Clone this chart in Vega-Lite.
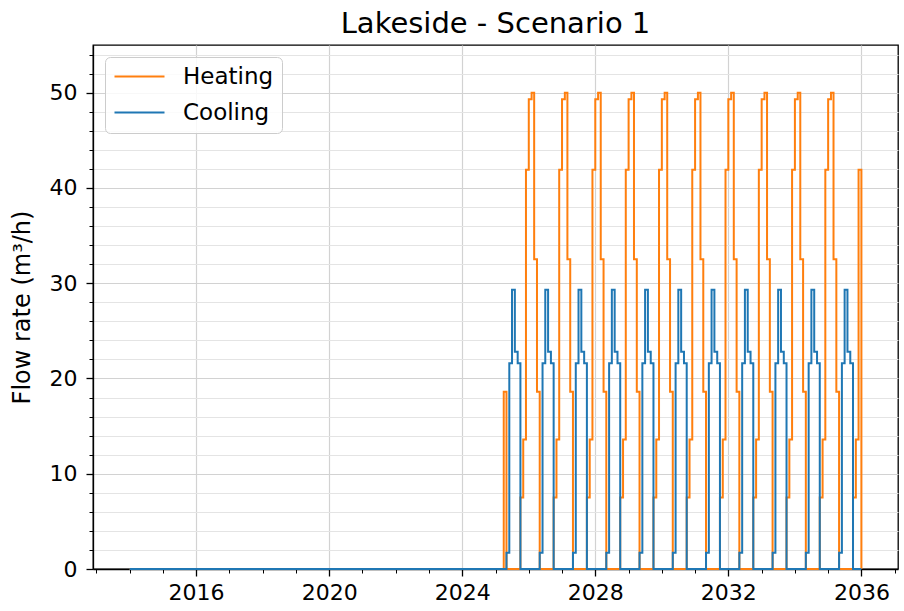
{
  "$schema": "https://vega.github.io/schema/vega-lite/v6.json",
  "width": 805,
  "height": 524,
  "autosize": {"type": "none"},
  "padding": {"left": 93, "top": 45, "right": 6, "bottom": 42},
  "background": "white",
  "title": {"text": "Lakeside - Scenario 1", "fontSize": 29, "font": "DejaVu Sans", "fontWeight": "normal", "color": "black", "anchor": "middle", "baseline": "bottom", "offset": 8, "dy": 31},
  "config": {
    "font": "DejaVu Sans",
    "view": {"stroke": "black", "strokeWidth": 1.3},
    "legend": {
      "symbolType": "M-2.5,0H2.5", "symbolSize": 400, "symbolStrokeWidth": 2, "symbolOffset": 15,
      "labelFontSize": 23, "labelFont": "DejaVu Sans", "labelColor": "black", "labelOffset": 32,
      "rowPadding": 12, "padding": 8, "strokeColor": "#cccccc", "fillColor": "rgba(255,255,255,0.85)",
      "cornerRadius": 5, "offset": 12, "orient": "top-left"
    }
  },
  "data": {"values": [
    {"t": "2014-01-01", "Heating": 0, "Cooling": 0},
    {"t": "2025-04-01", "Heating": 18.6, "Cooling": 0},
    {"t": "2025-05-01", "Heating": 0, "Cooling": 1.7},
    {"t": "2025-06-01", "Heating": 0, "Cooling": 21.6},
    {"t": "2025-07-01", "Heating": 0, "Cooling": 29.3},
    {"t": "2025-08-01", "Heating": 0, "Cooling": 22.8},
    {"t": "2025-09-01", "Heating": 0, "Cooling": 21.6},
    {"t": "2025-10-01", "Heating": 7.5, "Cooling": 0},
    {"t": "2025-11-01", "Heating": 13.6, "Cooling": 0},
    {"t": "2025-12-01", "Heating": 41.9, "Cooling": 0},
    {"t": "2026-01-01", "Heating": 49.3, "Cooling": 0},
    {"t": "2026-02-01", "Heating": 50, "Cooling": 0},
    {"t": "2026-03-01", "Heating": 32.5, "Cooling": 0},
    {"t": "2026-04-01", "Heating": 18.6, "Cooling": 0},
    {"t": "2026-05-01", "Heating": 0, "Cooling": 1.7},
    {"t": "2026-06-01", "Heating": 0, "Cooling": 21.6},
    {"t": "2026-07-01", "Heating": 0, "Cooling": 29.3},
    {"t": "2026-08-01", "Heating": 0, "Cooling": 22.8},
    {"t": "2026-09-01", "Heating": 0, "Cooling": 21.6},
    {"t": "2026-10-01", "Heating": 7.5, "Cooling": 0},
    {"t": "2026-11-01", "Heating": 13.6, "Cooling": 0},
    {"t": "2026-12-01", "Heating": 41.9, "Cooling": 0},
    {"t": "2027-01-01", "Heating": 49.3, "Cooling": 0},
    {"t": "2027-02-01", "Heating": 50, "Cooling": 0},
    {"t": "2027-03-01", "Heating": 32.5, "Cooling": 0},
    {"t": "2027-04-01", "Heating": 18.6, "Cooling": 0},
    {"t": "2027-05-01", "Heating": 0, "Cooling": 1.7},
    {"t": "2027-06-01", "Heating": 0, "Cooling": 21.6},
    {"t": "2027-07-01", "Heating": 0, "Cooling": 29.3},
    {"t": "2027-08-01", "Heating": 0, "Cooling": 22.8},
    {"t": "2027-09-01", "Heating": 0, "Cooling": 21.6},
    {"t": "2027-10-01", "Heating": 7.5, "Cooling": 0},
    {"t": "2027-11-01", "Heating": 13.6, "Cooling": 0},
    {"t": "2027-12-01", "Heating": 41.9, "Cooling": 0},
    {"t": "2028-01-01", "Heating": 49.3, "Cooling": 0},
    {"t": "2028-02-01", "Heating": 50, "Cooling": 0},
    {"t": "2028-03-01", "Heating": 32.5, "Cooling": 0},
    {"t": "2028-04-01", "Heating": 18.6, "Cooling": 0},
    {"t": "2028-05-01", "Heating": 0, "Cooling": 1.7},
    {"t": "2028-06-01", "Heating": 0, "Cooling": 21.6},
    {"t": "2028-07-01", "Heating": 0, "Cooling": 29.3},
    {"t": "2028-08-01", "Heating": 0, "Cooling": 22.8},
    {"t": "2028-09-01", "Heating": 0, "Cooling": 21.6},
    {"t": "2028-10-01", "Heating": 7.5, "Cooling": 0},
    {"t": "2028-11-01", "Heating": 13.6, "Cooling": 0},
    {"t": "2028-12-01", "Heating": 41.9, "Cooling": 0},
    {"t": "2029-01-01", "Heating": 49.3, "Cooling": 0},
    {"t": "2029-02-01", "Heating": 50, "Cooling": 0},
    {"t": "2029-03-01", "Heating": 32.5, "Cooling": 0},
    {"t": "2029-04-01", "Heating": 18.6, "Cooling": 0},
    {"t": "2029-05-01", "Heating": 0, "Cooling": 1.7},
    {"t": "2029-06-01", "Heating": 0, "Cooling": 21.6},
    {"t": "2029-07-01", "Heating": 0, "Cooling": 29.3},
    {"t": "2029-08-01", "Heating": 0, "Cooling": 22.8},
    {"t": "2029-09-01", "Heating": 0, "Cooling": 21.6},
    {"t": "2029-10-01", "Heating": 7.5, "Cooling": 0},
    {"t": "2029-11-01", "Heating": 13.6, "Cooling": 0},
    {"t": "2029-12-01", "Heating": 41.9, "Cooling": 0},
    {"t": "2030-01-01", "Heating": 49.3, "Cooling": 0},
    {"t": "2030-02-01", "Heating": 50, "Cooling": 0},
    {"t": "2030-03-01", "Heating": 32.5, "Cooling": 0},
    {"t": "2030-04-01", "Heating": 18.6, "Cooling": 0},
    {"t": "2030-05-01", "Heating": 0, "Cooling": 1.7},
    {"t": "2030-06-01", "Heating": 0, "Cooling": 21.6},
    {"t": "2030-07-01", "Heating": 0, "Cooling": 29.3},
    {"t": "2030-08-01", "Heating": 0, "Cooling": 22.8},
    {"t": "2030-09-01", "Heating": 0, "Cooling": 21.6},
    {"t": "2030-10-01", "Heating": 7.5, "Cooling": 0},
    {"t": "2030-11-01", "Heating": 13.6, "Cooling": 0},
    {"t": "2030-12-01", "Heating": 41.9, "Cooling": 0},
    {"t": "2031-01-01", "Heating": 49.3, "Cooling": 0},
    {"t": "2031-02-01", "Heating": 50, "Cooling": 0},
    {"t": "2031-03-01", "Heating": 32.5, "Cooling": 0},
    {"t": "2031-04-01", "Heating": 18.6, "Cooling": 0},
    {"t": "2031-05-01", "Heating": 0, "Cooling": 1.7},
    {"t": "2031-06-01", "Heating": 0, "Cooling": 21.6},
    {"t": "2031-07-01", "Heating": 0, "Cooling": 29.3},
    {"t": "2031-08-01", "Heating": 0, "Cooling": 22.8},
    {"t": "2031-09-01", "Heating": 0, "Cooling": 21.6},
    {"t": "2031-10-01", "Heating": 7.5, "Cooling": 0},
    {"t": "2031-11-01", "Heating": 13.6, "Cooling": 0},
    {"t": "2031-12-01", "Heating": 41.9, "Cooling": 0},
    {"t": "2032-01-01", "Heating": 49.3, "Cooling": 0},
    {"t": "2032-02-01", "Heating": 50, "Cooling": 0},
    {"t": "2032-03-01", "Heating": 32.5, "Cooling": 0},
    {"t": "2032-04-01", "Heating": 18.6, "Cooling": 0},
    {"t": "2032-05-01", "Heating": 0, "Cooling": 1.7},
    {"t": "2032-06-01", "Heating": 0, "Cooling": 21.6},
    {"t": "2032-07-01", "Heating": 0, "Cooling": 29.3},
    {"t": "2032-08-01", "Heating": 0, "Cooling": 22.8},
    {"t": "2032-09-01", "Heating": 0, "Cooling": 21.6},
    {"t": "2032-10-01", "Heating": 7.5, "Cooling": 0},
    {"t": "2032-11-01", "Heating": 13.6, "Cooling": 0},
    {"t": "2032-12-01", "Heating": 41.9, "Cooling": 0},
    {"t": "2033-01-01", "Heating": 49.3, "Cooling": 0},
    {"t": "2033-02-01", "Heating": 50, "Cooling": 0},
    {"t": "2033-03-01", "Heating": 32.5, "Cooling": 0},
    {"t": "2033-04-01", "Heating": 18.6, "Cooling": 0},
    {"t": "2033-05-01", "Heating": 0, "Cooling": 1.7},
    {"t": "2033-06-01", "Heating": 0, "Cooling": 21.6},
    {"t": "2033-07-01", "Heating": 0, "Cooling": 29.3},
    {"t": "2033-08-01", "Heating": 0, "Cooling": 22.8},
    {"t": "2033-09-01", "Heating": 0, "Cooling": 21.6},
    {"t": "2033-10-01", "Heating": 7.5, "Cooling": 0},
    {"t": "2033-11-01", "Heating": 13.6, "Cooling": 0},
    {"t": "2033-12-01", "Heating": 41.9, "Cooling": 0},
    {"t": "2034-01-01", "Heating": 49.3, "Cooling": 0},
    {"t": "2034-02-01", "Heating": 50, "Cooling": 0},
    {"t": "2034-03-01", "Heating": 32.5, "Cooling": 0},
    {"t": "2034-04-01", "Heating": 18.6, "Cooling": 0},
    {"t": "2034-05-01", "Heating": 0, "Cooling": 1.7},
    {"t": "2034-06-01", "Heating": 0, "Cooling": 21.6},
    {"t": "2034-07-01", "Heating": 0, "Cooling": 29.3},
    {"t": "2034-08-01", "Heating": 0, "Cooling": 22.8},
    {"t": "2034-09-01", "Heating": 0, "Cooling": 21.6},
    {"t": "2034-10-01", "Heating": 7.5, "Cooling": 0},
    {"t": "2034-11-01", "Heating": 13.6, "Cooling": 0},
    {"t": "2034-12-01", "Heating": 41.9, "Cooling": 0},
    {"t": "2035-01-01", "Heating": 49.3, "Cooling": 0},
    {"t": "2035-02-01", "Heating": 50, "Cooling": 0},
    {"t": "2035-03-01", "Heating": 32.5, "Cooling": 0},
    {"t": "2035-04-01", "Heating": 18.6, "Cooling": 0},
    {"t": "2035-05-01", "Heating": 0, "Cooling": 1.7},
    {"t": "2035-06-01", "Heating": 0, "Cooling": 21.6},
    {"t": "2035-07-01", "Heating": 0, "Cooling": 29.3},
    {"t": "2035-08-01", "Heating": 0, "Cooling": 22.8},
    {"t": "2035-09-01", "Heating": 0, "Cooling": 21.6},
    {"t": "2035-10-01", "Heating": 7.5, "Cooling": 0},
    {"t": "2035-11-01", "Heating": 13.6, "Cooling": 0},
    {"t": "2035-12-01", "Heating": 41.9, "Cooling": 0},
    {"t": "2036-01-01", "Heating": 0, "Cooling": 0}
  ]},
  "layer": [
    {
      "mark": {"type": "line", "strokeOpacity": 0},
      "encoding": {
        "x": {"field": "t", "type": "temporal",
          "scale": {"type": "utc", "domain": [{"year": 2012, "month": 11, "date": 25, "utc": true}, {"year": 2037, "month": 2, "date": 6, "utc": true}]},
          "axis": {"orient": "bottom", "title": null, "labels": false, "grid": false, "domain": false,
            "ticks": true, "tickSize": 4, "tickWidth": 1, "tickColor": "black",
            "values": [{"year": 2013, "utc": true}, {"year": 2014, "utc": true}, {"year": 2015, "utc": true}, {"year": 2017, "utc": true}, {"year": 2018, "utc": true}, {"year": 2019, "utc": true}, {"year": 2021, "utc": true}, {"year": 2022, "utc": true}, {"year": 2023, "utc": true}, {"year": 2025, "utc": true}, {"year": 2026, "utc": true}, {"year": 2027, "utc": true}, {"year": 2029, "utc": true}, {"year": 2030, "utc": true}, {"year": 2031, "utc": true}, {"year": 2033, "utc": true}, {"year": 2034, "utc": true}, {"year": 2035, "utc": true}, {"year": 2037, "utc": true}]}},
        "y": {"field": "Heating", "type": "quantitative",
          "scale": {"domain": [0, 55], "nice": false},
          "axis": {"orient": "left", "title": null, "labels": false, "domain": false,
            "grid": true, "gridColor": "#e4e4e4", "gridWidth": 1,
            "ticks": true, "tickSize": 4, "tickWidth": 1, "tickColor": "black",
            "values": [2, 4, 6, 8, 12, 14, 16, 18, 22, 24, 26, 28, 32, 34, 36, 38, 42, 44, 46, 48, 52, 54]}}
      }
    },
    {
      "mark": {"type": "line", "interpolate": "step-after", "strokeWidth": 2},
      "encoding": {
        "x": {"field": "t", "type": "temporal",
          "axis": {"orient": "bottom", "title": null, "format": "%Y", "labelFontSize": 22, "labelColor": "black", "labelFont": "DejaVu Sans",
            "labelPadding": 6, "labelFlush": false, "labelOverlap": false,
            "grid": true, "gridColor": "#d2d2d2", "gridWidth": 1.2,
            "domain": true, "domainColor": "black", "domainWidth": 1.3,
            "tickSize": 7, "tickWidth": 1.3, "tickColor": "black",
            "values": [{"year": 2016, "utc": true}, {"year": 2020, "utc": true}, {"year": 2024, "utc": true}, {"year": 2028, "utc": true}, {"year": 2032, "utc": true}, {"year": 2036, "utc": true}]}},
        "y": {"field": "Heating", "type": "quantitative",
          "axis": {"orient": "left", "title": "Flow rate (m³/h)", "titleFontSize": 24, "titleFontWeight": "normal", "titleColor": "black", "titleFont": "DejaVu Sans", "titlePadding": 15,
            "labelFontSize": 22, "labelColor": "black", "labelFont": "DejaVu Sans", "labelPadding": 9, "labelFlush": false,
            "grid": true, "gridColor": "#d2d2d2", "gridWidth": 1.2,
            "domain": true, "domainColor": "black", "domainWidth": 1.3,
            "tickSize": 7, "tickWidth": 1.3, "tickColor": "black",
            "values": [0, 10, 20, 30, 40, 50]}},
        "color": {"datum": "Heating", "type": "nominal",
          "scale": {"domain": ["Heating", "Cooling"], "range": ["#ff7f0e", "#1f77b4"]},
          "legend": {"title": null}}
      }
    },
    {
      "mark": {"type": "line", "interpolate": "step-after", "strokeWidth": 2},
      "encoding": {
        "x": {"field": "t", "type": "temporal", "axis": null},
        "y": {"field": "Cooling", "type": "quantitative", "axis": null},
        "color": {"datum": "Cooling", "type": "nominal", "legend": {"title": null}}
      }
    }
  ],
  "resolve": {"axis": {"x": "independent", "y": "independent"}}
}
